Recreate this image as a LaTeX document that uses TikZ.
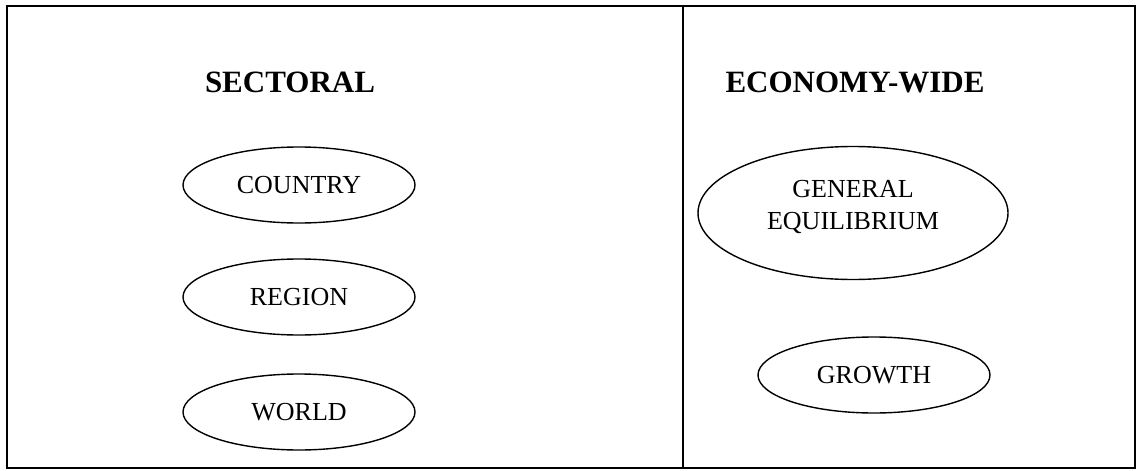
\documentclass[tikz,border=0pt]{standalone}
\usepackage{fontspec}
\setmainfont{Liberation Serif}
\usepackage{tikz}
\usetikzlibrary{shapes.geometric, arrows}
\usetikzlibrary{positioning}
\tikzstyle{oval} = [ellipse, draw=black, line width=1.4pt, inner sep=0pt, minimum width=232pt, minimum height=76pt, text centered, font=\fontsize{26}{32}\selectfont]
\tikzstyle{heading} = [font=\fontsize{31}{36}\selectfont\bfseries]

\begin{document}
\begin{tikzpicture}[x=1pt,y=-1pt]
	\useasboundingbox (0,0) rectangle (1138,471);
	\draw [line width=1.5pt] (7,6) rectangle (1135,468);
	\coordinate (divtop) at (683,6);
	\coordinate (divbot) at (683,468);
	\draw [line width=1.5pt] (divtop) -- (divbot);
	% left half
	\node [heading] (sectoral) at (290,82) {SECTORAL};
	\node [oval] (country) at (299,185) {COUNTRY};
	\node [oval] (region) at (299,297) {REGION};
	\node [oval] (world) at (299,412) {WORLD};
	% right half
	\node [heading] (ecowide) at (855,82) {ECONOMY-WIDE};
	\node [oval, minimum width=310pt, minimum height=133pt, align=center] (geneq) at (853,213) {GENERAL\\EQUILIBRIUM\\[-16pt]};
	\node [oval] (growth) at (874,375) {GROWTH};
\end{tikzpicture}
\end{document}
